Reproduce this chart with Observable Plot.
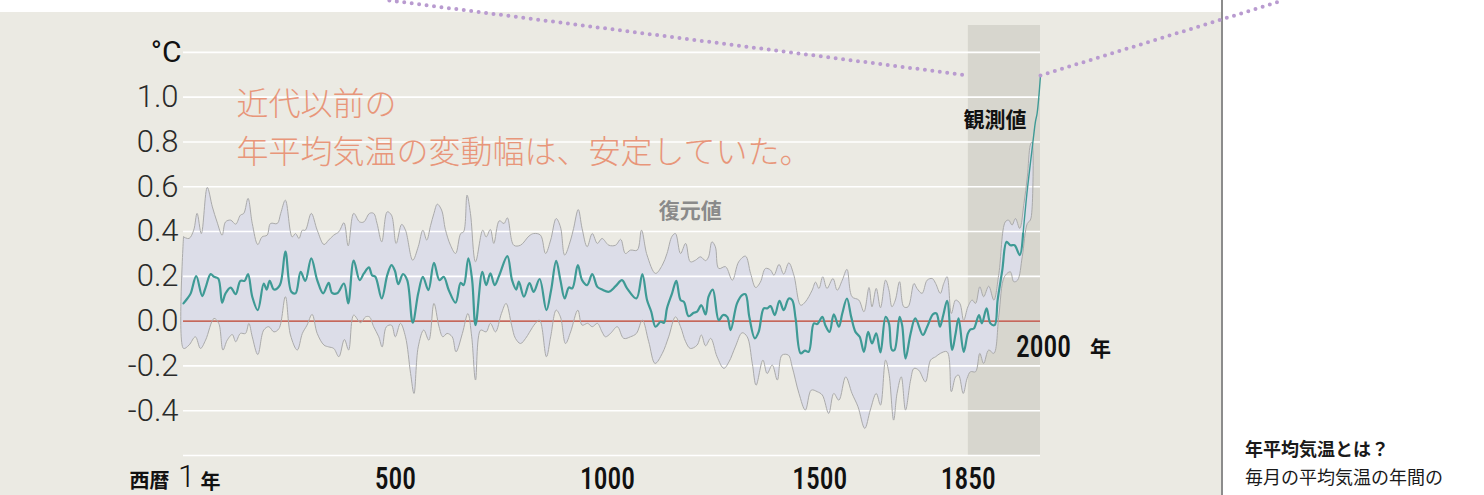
<!DOCTYPE html>
<html><head><meta charset="utf-8">
<script src="https://cdn.jsdelivr.net/npm/d3@7"></script>
<script src="https://cdn.jsdelivr.net/npm/@observablehq/plot@0.6"></script>
<style>
body{margin:0;background:#fff;}
#wrap{position:relative;width:1484px;height:495px;overflow:hidden;font-family:"Noto Sans CJK JP",sans-serif;}
#panel{position:absolute;left:0;top:12px;width:1221px;height:483px;background:#ebeae3;}
#sep{position:absolute;left:1221px;top:0;width:2px;height:495px;background:#8c8c8c;}
#chart{position:absolute;left:0;top:0;}
.side{position:absolute;left:1245px;font-size:18px;line-height:26px;color:#1a1a1a;white-space:nowrap;}
</style></head>
<body><div id="wrap"><div id="panel"></div><div id="sep"></div><div id="chart"></div>
<div class="side" style="top:435px;font-weight:700">年平均気温とは？</div>
<div class="side" style="top:463px">毎月の平均気温の年間の</div>
</div>
<script>
// ---- data (year, °C relative to 1850-1900) ----
const meanSeries = [[1,0.079],[10,0.101],[18,0.124],[31,0.201],[45,0.112],[53,0.150],[65,0.210],[73,0.198],[83,0.190],[92,0.082],[100,0.124],[112,0.150],[124,0.12],[135,0.18],[145,0.18],[153,0.21],[163,0.109],[176,0.049],[190,0.168],[197,0.141],[204,0.18],[214,0.141],[228,0.161],[241,0.31],[255,0.131],[265,0.124],[277,0.22],[288,0.18],[302,0.28],[316,0.183],[330,0.124],[343,0.171],[351,0.126],[363,0.124],[379,0.168],[389,0.079],[402,0.27],
[416,0.183],[426,0.213],[438,0.24],[445,0.205],[453,0.198],[468,0.101],[481,0.205],[491,0.25],[499,0.225],[507,0.165],[518,0.21],[528,0.183],[541,-0.007],[554,0.124],[565,0.198],[578,0.138],[591,0.26],[604,0.183],[614,0.198],[626,0.138],[642,0.082],[654,0.171],[661,0.161],[672,0.28],[681,0.183],[689,-0.018],[705,0.22],[714,0.161],[724,0.213],[734,0.161],[745,0.205],[764,0.29],[775,0.183],[785,0.141],[791,0.176],[803,0.109],[816,0.17],
[826,0.131],[840,0.188],[856,0.049],[867,0.138],[879,0.269],[889,0.183],[899,0.101],[909,0.15],[917,0.146],[930,0.25],[940,0.183],[952,0.161],[964,0.21],[976,0.153],[987,0.141],[1003,0.131],[1019,0.156],[1034,0.183],[1046,0.146],[1068,0.101],[1082,0.21],[1093,0.094],[1103,0.042],[1113,-0.025],[1125,-0.003],[1133,-0.007],[1140,0.057],[1152,0.124],[1162,0.18],[1172,0.094],[1180,0.086],[1191,0.022],[1203,0.037],[1211,0.042],[1221,0.071],[1231,0.03],
[1238,0.109],[1248,0.141],[1262,0.004],[1272,0.027],[1282,0.019],[1290,-0.04],[1305,0.079],[1317,0.116],[1325,0.12],[1334,0.019],[1347,-0.077],[1356,-0.048],[1368,0.057],[1376,0.057],[1384,0.067],[1394,0.027],[1405,0.091],[1415,0.049],[1427,0.101],[1435,0.094],[1443,0.012],[1455,-0.144],[1465,-0.132],[1474,-0.137],[1486,-0.01],[1494,-0.013],[1506,0.019],[1513,-0.018],[1523,-0.048],[1533,0.03],[1545,-0.025],[1553,0.034],[1564,0.101],[1574,0.019],[1584,-0.048],[1594,-0.07],[1604,-0.137],[1614,-0.048],[1623,-0.1],[1633,-0.055],[1643,-0.14],
[1655,0.019],[1663,-0.01],[1670,-0.129],[1676,-0.129],[1688,0.019],[1694,-0.018],[1702,-0.167],[1714,-0.055],[1725,0.012],[1743,-0.062],[1753,-0.025],[1767,0.031],[1775,0.034],[1783,-0.025],[1791,0.027],[1800,0.091],[1812,-0.129],[1820,-0.055],[1827,0.012],[1839,-0.137],[1849,-0.055],[1855,-0.037],[1863,-0.033],[1875,0.027],[1882,-0.01],[1893,0.057],[1902,-0.01],[1912,-0.018],[1919,0.094],[1930,0.228],[1940,0.354],[1949,0.339],[1959,0.339],[1971,0.295],[1979,0.391]];

const observedSeries = [[1979,0.391],[1988,0.57],[1998,0.734],[2004,0.83],[2008,0.89],[2012,0.927],[2016,1.0],[2020,1.098]];

const upperSeries = [[1,0.376],[14,0.369],[25,0.406],[33,0.481],[43,0.391],[57,0.597],[69,0.51],[80,0.443],[92,0.384],[100,0.443],[112,0.451],[124,0.433],[135,0.473],[143,0.481],[153,0.548],[163,0.436],[176,0.342],[186,0.376],[198,0.384],[206,0.436],[222,0.436],[230,0.481],[241,0.54],[257,0.376],[265,0.391],[273,0.369],[281,0.406],[288,0.406],[302,0.481],[316,0.406],[332,0.342],[343,0.362],[355,0.384],[367,0.399],[379,0.439],[389,0.336],[402,0.481],
[416,0.443],[426,0.443],[439,0.481],[449,0.481],[457,0.436],[468,0.354],[481,0.488],[491,0.473],[502,0.347],[515,0.432],[524,0.406],[541,0.272],[554,0.332],[565,0.406],[574,0.362],[583,0.426],[591,0.481],[599,0.522],[609,0.496],[618,0.409],[630,0.339],[642,0.302],[654,0.391],[661,0.399],[669,0.5625],[677,0.481],[689,0.265],[706,0.406],[714,0.376],[724,0.409],[732,0.347],[745,0.448],[756,0.436],[764,0.461],[779,0.339],[795,0.339],[815,0.38],
[826,0.391],[842,0.384],[854,0.302],[866,0.362],[879,0.458],[889,0.421],[899,0.295],[913,0.362],[920,0.414],[931,0.498],[940,0.414],[952,0.332],[964,0.391],[976,0.347],[987,0.369],[1003,0.339],[1019,0.339],[1031,0.365],[1042,0.302],[1054,0.317],[1070,0.317],[1080,0.406],[1093,0.295],[1113,0.213],[1129,0.25],[1140,0.302],[1152,0.379],[1160,0.391],[1172,0.302],[1184,0.347],[1195,0.265],[1207,0.272],[1219,0.287],[1231,0.27],
[1238,0.287],[1246,0.354],[1254,0.332],[1262,0.235],[1278,0.243],[1294,0.183],[1309,0.265],[1325,0.29],[1337,0.213],[1349,0.15],[1360,0.174],[1372,0.235],[1384,0.228],[1392,0.205],[1404,0.253],[1415,0.21],[1427,0.26],[1439,0.205],[1455,0.071],[1466,0.086],[1482,0.138],[1490,0.174],[1498,0.146],[1507,0.198],[1517,0.146],[1531,0.19],[1541,0.138],[1553,0.183],[1564,0.231],[1576,0.109],[1592,0.094],[1604,0.042],[1616,0.15],[1623,0.064],[1633,0.146],[1643,0.06],
[1655,0.183],[1663,0.138],[1670,0.064],[1678,0.094],[1688,0.176],[1698,0.064],[1708,0.064],[1722,0.168],[1729,0.146],[1741,0.124],[1753,0.183],[1765,0.19],[1773,0.168],[1784,0.124],[1792,0.168],[1800,0.198],[1810,0.034],[1820,0.094],[1830,0.079],[1839,0.004],[1849,0.064],[1859,0.094],[1867,0.079],[1877,0.153],[1886,0.109],[1898,0.156],[1910,0.094],[1922,0.213],[1937,0.443],[1945,0.451],[1953,0.429],[1961,0.458],[1971,0.414],[1981,0.525],[1989,0.644],[1996,0.786],[2000,0.80]];

const lowerSeries = [[1,-0.122],[14,-0.107],[29,-0.07],[41,-0.122],[53,-0.085],[73,0.012],[84,-0.01],[94,-0.129],[104,-0.085],[116,-0.06],[124,-0.092],[135,-0.055],[147,-0.055],[155,-0.01],[163,-0.07],[176,-0.149],[190,-0.04],[202,-0.025],[214,-0.048],[226,-0.033],[241,0.109],[253,-0.062],[269,-0.129],[281,-0.055],[292,-0.018],[304,0.03],[316,-0.055],[332,-0.107],[343,-0.115],[355,-0.122],[367,-0.159],[380,-0.082],[390,-0.129],[402,0.027],
[418,-0.007],[430,0.019],[439,0.019],[449,-0.025],[461,-0.07],[469,-0.115],[479,-0.025],[491,-0.018],[500,-0.07],[512,-0.01],[524,-0.07],[536,-0.234],[544,-0.323],[554,-0.115],[567,-0.04],[579,-0.085],[591,0.079],[603,-0.025],[612,-0.07],[622,-0.055],[634,-0.07],[643,-0.137],[658,-0.055],[671,0.034],[680,-0.07],[689,-0.263],[701,-0.04],[714,-0.048],[724,-0.01],[736,-0.048],[750,0.034],[761,0.079],[774,-0.018],[783,-0.077],[795,-0.1],[807,-0.077],[816,-0.05],
[830,-0.01],[840,0.004],[856,-0.159],[866,-0.07],[879,0.049],[889,0.019],[901,-0.1],[913,-0.048],[930,0.049],[940,-0.018],[953,-0.01],[964,-0.025],[976,-0.01],[987,-0.048],[995,-0.07],[1007,-0.055],[1023,-0.025],[1038,-0.077],[1054,-0.07],[1068,-0.055],[1082,0.004],[1097,-0.092],[1112,-0.189],[1129,-0.144],[1144,-0.07],[1160,0.019],[1172,-0.025],[1184,-0.092],[1195,-0.122],[1211,-0.107],[1221,-0.062],[1231,-0.11],
[1243,-0.077],[1258,-0.159],[1274,-0.211],[1286,-0.182],[1301,-0.115],[1317,-0.052],[1329,-0.07],[1341,-0.189],[1350,-0.286],[1366,-0.174],[1376,-0.234],[1388,-0.196],[1400,-0.263],[1411,-0.152],[1426,-0.152],[1435,-0.204],[1451,-0.323],[1466,-0.397],[1480,-0.308],[1494,-0.315],[1506,-0.33],[1521,-0.412],[1533,-0.323],[1545,-0.353],[1561,-0.249],[1576,-0.323],[1590,-0.382],[1606,-0.479],[1619,-0.397],[1633,-0.323],[1643,-0.375],
[1655,-0.174],[1663,-0.234],[1674,-0.442],[1682,-0.323],[1692,-0.249],[1702,-0.397],[1714,-0.263],[1722,-0.211],[1733,-0.219],[1749,-0.271],[1761,-0.174],[1773,-0.159],[1784,-0.144],[1800,-0.137],[1810,-0.315],[1820,-0.249],[1827,-0.241],[1838,-0.323],[1847,-0.256],[1855,-0.226],[1867,-0.226],[1877,-0.144],[1886,-0.189],[1898,-0.129],[1910,-0.144],[1922,0.027],[1935,0.198],[1949,0.22],[1957,0.176],[1966,0.183],[1977,0.287],[1989,0.436],[1996,0.451],[2000,0.50]];

const observationPeriod = [{start:1850, end:2020}];
const yGrid = [-0.6,-0.4,-0.2,0,0.2,0.4,0.6,0.8,1.0,1.2];
const yTicks = [-0.4,-0.2,0,0.2,0.4,0.6,0.8,1.0];
const yUnit = [{value:1.2, text:"°C"}];
const xTicks = [500,1000,1500,1850];
const leftConnector = [[486,1.432],[1850,1.097]];
const rightConnector = [[2020,1.097],[2592,1.432]];

// ---- build ----
const bandPolygon = [...upperSeries, ...lowerSeries.slice().reverse(), upperSeries[0]];
const X = d => d[0], Y = d => d[1];
const narrow = "Roboto Condensed,Roboto,sans-serif";
const cjk = "'Noto Sans CJK JP',sans-serif";
const light = "Roboto,'Helvetica Neue',sans-serif";
const smooth = "catmull-rom";

const chart = Plot.plot({
  width:1484, height:495,
  marginLeft:183, marginRight:444, marginTop:25, marginBottom:40,
  x:{domain:[1,2020], axis:null},
  y:{domain:[-0.6,1.32], axis:null},
  style:{background:"transparent", overflow:"visible"},
  marks:[
    Plot.rect(observationPeriod, {x1:"start", x2:"end", fill:"#d7d6ce"}),
    Plot.line(bandPolygon, {x:X, y:Y, fill:"#dcdde8", stroke:"none", curve:smooth}),
    Plot.ruleY(yGrid, {y:d=>d, stroke:"#ffffff", strokeWidth:1.6}),
    Plot.ruleY([0], {stroke:"#c4685c", strokeWidth:1.6}),
    Plot.line(bandPolygon, {x:X, y:Y, stroke:"#aaaaaa", strokeWidth:1, curve:smooth}),
    Plot.line(meanSeries, {x:X, y:Y, stroke:"#3e9a95", strokeWidth:2.2, curve:smooth}),
    Plot.line(observedSeries, {x:X, y:Y, stroke:"#3e9a95", strokeWidth:1.4, curve:smooth}),
    Plot.line(leftConnector, {x:X, y:Y, stroke:"#b99bd0", strokeWidth:4, strokeDasharray:"0 7.5", strokeLinecap:"round"}),
    Plot.line(rightConnector, {x:X, y:Y, stroke:"#b99bd0", strokeWidth:4, strokeDasharray:"0 7.5", strokeLinecap:"round"}),
    // y tick labels
    Plot.text(yTicks, {y:d=>d, text:d=>d.toFixed(1), frameAnchor:"left", textAnchor:"end", lineAnchor:"middle", dx:-5, fontSize:31, fontWeight:300, fontFamily:light, fill:"#2a2a2a"}),
    Plot.text(yUnit, {y:"value", text:"text", frameAnchor:"left", textAnchor:"end", lineAnchor:"middle", dx:-2, fontSize:30, fontFamily:light, fill:"#111"}),
    // x tick labels
    Plot.text(xTicks, {x:d=>d, text:d=>String(d), frameAnchor:"bottom", lineAnchor:"middle", dy:23, fontSize:32, fontWeight:500, fontFamily:narrow, fill:"#111"}),
    Plot.text([1], {x:d=>d, text:()=>"西暦", frameAnchor:"bottom", lineAnchor:"middle", dy:26, textAnchor:"end", dx:-14, fontSize:20, fontWeight:700, fontFamily:cjk, fill:"#111"}),
    Plot.text([1], {x:d=>d, text:()=>"1", frameAnchor:"bottom", lineAnchor:"middle", dy:22, dx:3, fontSize:31, fontWeight:300, fontFamily:light, fill:"#111"}),
    Plot.text([1], {x:d=>d, text:()=>"年", frameAnchor:"bottom", lineAnchor:"middle", dy:27, textAnchor:"start", dx:17, fontSize:20, fontWeight:700, fontFamily:cjk, fill:"#111"}),
    // annotations
    Plot.text([{year:2000, value:-0.116}], {x:"year", y:"value", text:()=>"2000", textAnchor:"start", dx:-16, fontSize:32, fontWeight:500, fontFamily:narrow, fill:"#111"}),
    Plot.text([{year:2000, value:-0.116}], {x:"year", y:"value", text:()=>"年", textAnchor:"start", dx:58, dy:2, fontSize:21, fontWeight:700, fontFamily:cjk, fill:"#111"}),
    Plot.text([{year:2020, value:0.897}], {x:"year", y:"value", text:()=>"観測値", textAnchor:"end", dx:-14, fontSize:21, fontWeight:700, fontFamily:cjk, fill:"#111"}),
    Plot.text([{year:1195, value:0.49}], {x:"year", y:"value", text:()=>"復元値", fontSize:21, fontWeight:700, fontFamily:cjk, fill:"#8a8a8a"}),
    Plot.text([{year:126, value:0.88}], {x:"year", y:"value", text:()=>"近代以前の\n年平均気温の変動幅は、安定していた。", textAnchor:"start", lineHeight:1.5, fontSize:32, fontWeight:300, fontFamily:cjk, fill:"#e8967a"})
  ]
});
// condense the condensed-style labels (no condensed face installed)
chart.querySelectorAll('g[font-family^="Roboto Condensed"] text').forEach(t => {
  const tr = t.getAttribute("transform") || "";
  t.setAttribute("transform", (tr + " scale(0.86,1)").trim());
});
document.getElementById("chart").appendChild(chart);
</script>
</body></html>
